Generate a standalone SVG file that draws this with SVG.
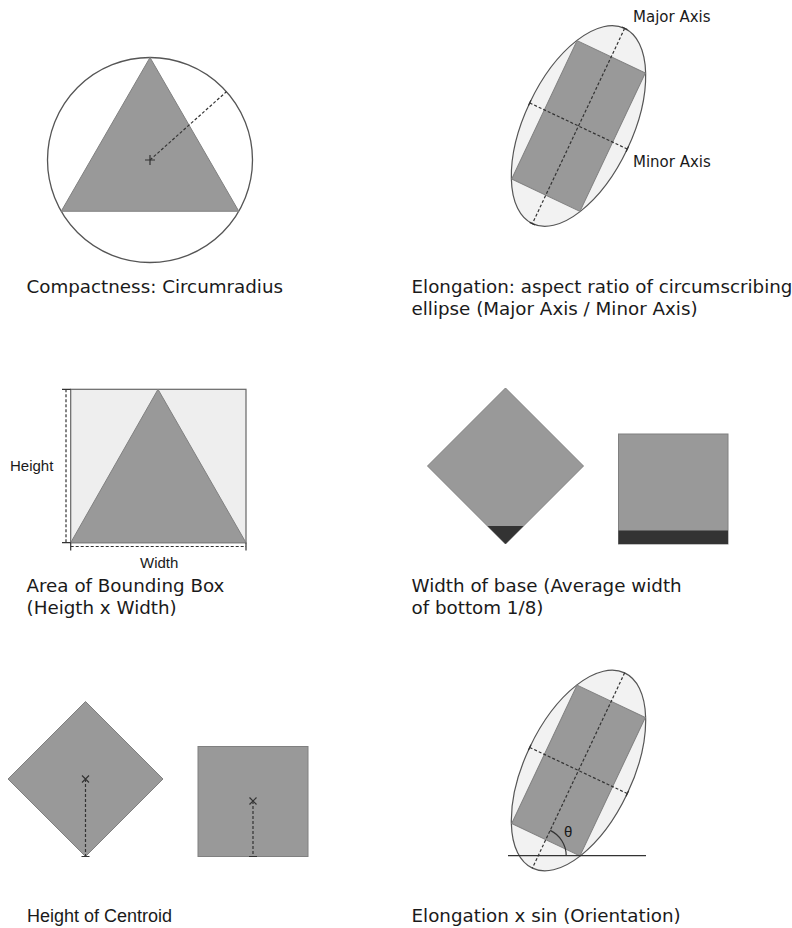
<svg xmlns="http://www.w3.org/2000/svg" width="792" height="928" viewBox="0 0 792 928">
<style>
.shape{fill:#999999;stroke:#808080;stroke-width:1}
.dark{fill:#333333;stroke:none}
.ell{fill:#f2f2f2;stroke:#555555;stroke-width:1.2}
.bbox{fill:#eeeeee;stroke:#666666;stroke-width:1.2}
.circ{fill:#ffffff;stroke:#555555;stroke-width:1.3}
.dash{stroke:#333333;stroke-width:1.2;stroke-dasharray:3,2;fill:none}
.solid{stroke:#333333;stroke-width:1.2;fill:none}
.cap{font-family:"DejaVu Sans",Verdana,sans-serif;font-size:18.3px;fill:#1a1a1a}
.lab{font-family:"DejaVu Sans",Verdana,sans-serif;font-size:15px;fill:#1a1a1a}
.arial{font-family:"Liberation Sans",Arial,sans-serif;fill:#1a1a1a}
</style>
<rect width="792" height="928" fill="#ffffff"/>

<g id="compactness">
<circle class="circ" cx="150" cy="160" r="102.5"/>
<polygon class="shape" points="150,57.5 61.2,211.25 238.8,211.25"/>
<line class="dash" x1="150" y1="160" x2="226.4" y2="91.7"/>
<path class="solid" d="M145,160H155M150,155V165"/>
<text class="cap" x="26.5" y="292.5">Compactness: Circumradius</text>
</g>

<g id="elongation">
<g transform="translate(578.5,126) rotate(25.3)">
<ellipse class="ell" cx="0" cy="0" rx="54" ry="108"/>
<rect class="shape" x="-37.75" y="-76.5" width="75.5" height="153"/>
<line class="dash" x1="0" y1="-108" x2="0" y2="108"/>
<line class="dash" x1="-54" y1="0" x2="54" y2="0"/>
<path class="solid" d="M-54,-3V3M54,-3V3M-3,-108H3M-3,108H3"/>
</g>
<text class="lab" x="633" y="21.5">Major Axis</text>
<text class="lab" x="633" y="166.5">Minor Axis</text>
<text class="cap" x="411.5" y="292.5">Elongation: aspect ratio of circumscribing</text>
<text class="cap" x="411.5" y="315">ellipse (Major Axis / Minor Axis)</text>
</g>

<g id="bounding-box">
<rect class="bbox" x="70.7" y="389.3" width="175.3" height="153.4"/>
<polygon class="shape" points="158,389.3 70.7,542.7 246,542.7"/>
<line class="dash" x1="66" y1="389.3" x2="66" y2="542.7"/>
<path class="solid" d="M62,389.3H70.7M62,542.7H70.7"/>
<line class="dash" x1="70.7" y1="546.5" x2="246" y2="546.5"/>
<path class="solid" d="M70.7,542.7V550.5M246,542.7V550.5"/>
<text class="arial" font-size="15" x="10" y="470.5">Height</text>
<text class="arial" font-size="15" x="140" y="568">Width</text>
<text class="cap" x="26.5" y="591.5">Area of Bounding Box</text>
<text class="cap" x="26.5" y="613.5">(Heigth x Width)</text>
</g>

<g id="width-of-base">
<polygon class="shape" points="505.5,388 583.5,466 505.5,544 427.5,466"/>
<polygon class="dark" points="487.5,526 523.5,526 505.5,544"/>
<rect class="shape" x="618.5" y="434" width="109.5" height="110"/>
<rect class="dark" x="618.5" y="530.5" width="109.5" height="13.5"/>
<text class="cap" x="411.5" y="591.5">Width of base (Average width</text>
<text class="cap" x="411.5" y="613.5">of bottom 1/8)</text>
</g>

<g id="height-of-centroid">
<polygon class="shape" points="85.5,701.5 163,779 85.5,856.5 8,779"/>
<line class="dash" x1="85.5" y1="779" x2="85.5" y2="856.5"/>
<path class="solid" d="M82,775.5L89,782.5M89,775.5L82,782.5M81.5,856.5H89.5"/>
<rect class="shape" x="198" y="746.5" width="110" height="110"/>
<line class="dash" x1="253" y1="801" x2="253" y2="856.5"/>
<path class="solid" d="M249.5,797.5L256.5,804.5M256.5,797.5L249.5,804.5M249,856.5H257"/>
<text class="arial" font-size="18" x="27" y="922">Height of Centroid</text>
</g>

<g id="orientation">
<g transform="translate(578.5,770.5) rotate(25.3)">
<ellipse class="ell" cx="0" cy="0" rx="54" ry="108"/>
<rect class="shape" x="-37.75" y="-76.5" width="75.5" height="153"/>
<line class="dash" x1="0" y1="-108" x2="0" y2="108"/>
<line class="dash" x1="-54" y1="0" x2="54" y2="0"/>
<path class="solid" d="M-54,-3V3M54,-3V3"/>
</g>
<line class="solid" x1="508" y1="855.7" x2="646" y2="855.7"/>
<path class="solid" d="M566.2,855.7A28,28 0 0 0 550.2,830.4"/>
<text class="arial" font-size="15" x="564" y="836.5">θ</text>
<text class="cap" x="411.5" y="922">Elongation x sin (Orientation)</text>
</g>
</svg>
